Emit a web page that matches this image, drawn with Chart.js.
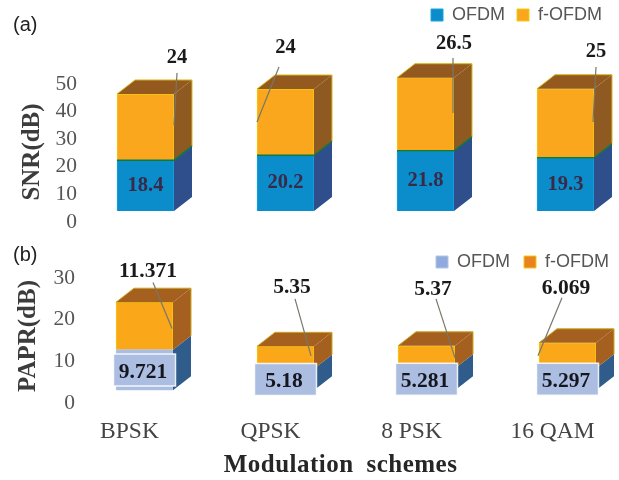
<!DOCTYPE html>
<html>
<head>
<meta charset="utf-8">
<script src="https://cdn.jsdelivr.net/npm/chart.js@4"></script>
<style>
html,body{margin:0;padding:0;background:#fff;overflow:hidden;width:619px;height:480px}
canvas{position:absolute;left:0;filter:blur(0.4px)}
#snr{top:0}
#papr{top:190px}
</style>
</head>
<body>
<canvas id="snr" width="619" height="240"></canvas>
<canvas id="papr" width="619" height="290"></canvas>
<script>
const categories = ["BPSK", "QPSK", "8 PSK", "16 QAM"];
const seriesNames = ["OFDM", "f-OFDM"];
const snrOfdm = [18.4, 20.2, 21.8, 19.3];
const snrFofdm = [24, 24, 26.5, 25];
const paprOfdm = [9.721, 5.18, 5.281, 5.297];
const paprFofdm = [11.371, 5.35, 5.37, 6.069];

const SERIF = '"Liberation Serif", serif';
const SANS = '"Liberation Sans", sans-serif';
const DEPTH = {x: 18, y: 14};

// annotation placement relative to the top-centre of each f-OFDM bar: [label dx, dy, leader x1, y1, x2, y2]
const snrCallouts = [
  [31.5, -36, 31.5, -21, 28.5, 31],
  [0, -41, -6.5, -22, -28.5, 33],
  [28.5, -33.7, 27.5, -19.7, 27.5, 35.3],
  [30.5, -36.7, 30.5, -21.7, 27.5, 33.3]
];
const paprCallouts = [
  [3.5, -30.8, 8.5, -19.8, 27.5, 26.2],
  [6.5, -58.5, 9.5, -47.5, 25.5, 9.5],
  [6.5, -56, 9.5, -47, 28.5, 12],
  [-1.5, -54, -5.5, -45, -29.5, 13]
];

const depthPlugin = {
  id: 'depth',
  afterDatasetsDraw(chart, args, o) {
    const ctx = chart.ctx;
    const lower = chart.getDatasetMeta(0).data;
    const upper = chart.getDatasetMeta(1).data;
    ctx.save();
    lower.forEach((el, i) => {
      const u = upper[i];
      const r = el.x + el.width / 2, l = el.x - el.width / 2;
      const poly = (pts, fill) => {
        ctx.beginPath();
        pts.forEach((p, k) => k ? ctx.lineTo(p[0], p[1]) : ctx.moveTo(p[0], p[1]));
        ctx.closePath();
        ctx.fillStyle = fill;
        ctx.fill();
      };
      poly([[r, el.y], [r + DEPTH.x, el.y - DEPTH.y], [r + DEPTH.x, el.base - DEPTH.y], [r, el.base]], o.sideLow);
      poly([[r, u.y], [r + DEPTH.x, u.y - DEPTH.y], [r + DEPTH.x, el.y - DEPTH.y], [r, el.y]], o.sideHigh);
      poly([[l, u.y], [l + DEPTH.x, u.y - DEPTH.y], [r + DEPTH.x, u.y - DEPTH.y], [r, u.y]], o.topFace);
      ctx.lineWidth = 1;
      ctx.strokeStyle = o.edge;
      ctx.beginPath();
      ctx.moveTo(l, u.y); ctx.lineTo(l + DEPTH.x, u.y - DEPTH.y);
      ctx.lineTo(r + DEPTH.x, u.y - DEPTH.y); ctx.lineTo(r + DEPTH.x, el.y - DEPTH.y);
      ctx.stroke();
      if (o.seam) {
        ctx.strokeStyle = o.seam;
        ctx.lineWidth = 1.5;
        ctx.beginPath();
        ctx.moveTo(l, el.y); ctx.lineTo(r, el.y); ctx.lineTo(r + DEPTH.x, el.y - DEPTH.y);
        ctx.stroke();
      }

      // leader line + upper value
      const c = o.callouts[i];
      ctx.strokeStyle = '#77776a';
      ctx.lineWidth = 1.2;
      ctx.beginPath();
      ctx.moveTo(u.x + c[2], u.y + c[3]);
      ctx.lineTo(u.x + c[4], u.y + c[5]);
      ctx.stroke();
      ctx.textAlign = 'center';
      ctx.textBaseline = 'middle';
      ctx.font = 'bold ' + o.valueSize + 'px ' + SERIF;
      ctx.fillStyle = '#1a1a1a';
      ctx.fillText(String(chart.data.datasets[1].data[i]), u.x + c[0], u.y + c[1]);

      // lower value, optionally in its white-edged box
      const cy = (el.y + el.base) / 2;
      if (o.valueBox) {
        ctx.fillStyle = o.valueBox;
        ctx.fillRect(el.x - 31, cy - 16, 62, 32);
        ctx.strokeStyle = 'rgba(255,255,255,0.85)';
        ctx.lineWidth = 1.5;
        ctx.strokeRect(el.x - 31, cy - 16, 62, 32);
      }
      ctx.fillStyle = o.valueColor;
      ctx.font = 'bold ' + o.valueSize + 'px ' + SERIF;
      ctx.fillText(String(chart.data.datasets[0].data[i]), el.x + o.valueDx, cy + o.valueDy);
    });
    ctx.restore();
  }
};

const textPlugin = {
  id: 'panelText',
  afterDraw(chart, args, o) {
    const ctx = chart.ctx;
    ctx.save();
    ctx.textBaseline = 'middle';
    ctx.textAlign = 'left';
    ctx.font = '20px ' + SANS;
    ctx.fillStyle = '#222';
    ctx.fillText(o.tag, 13, o.tagY);
    ctx.save();
    ctx.translate(o.axisX, o.axisY);
    ctx.rotate(-Math.PI / 2);
    ctx.textAlign = 'center';
    ctx.font = 'bold 25px ' + SERIF;
    ctx.fillStyle = '#3c3c3c';
    ctx.fillText(o.axisTitle, 0, 0);
    ctx.restore();
    if (o.xTitle) {
      ctx.textAlign = 'center';
      ctx.font = 'bold 25px ' + SERIF;
      ctx.letterSpacing = '0.5px';
      ctx.wordSpacing = '6px';
      ctx.fillStyle = '#262626';
      ctx.fillText(o.xTitle, 340.5, o.xTitleY);
    }
    ctx.restore();
  }
};

const legendPlacer = {
  id: 'legendPlacer',
  afterLayout(chart, args, o) {
    const lg = chart.legend;
    lg.left = 300;
    lg.right = o.right;
    lg.top = o.top;
    lg.bottom = o.top + 60;
  }
};

function makePanel(id, p) {
  return new Chart(document.getElementById(id), {
    type: 'bar',
    plugins: [depthPlugin, textPlugin, legendPlacer],
    data: {
      labels: categories,
      datasets: [
        {label: seriesNames[0], data: p.low, backgroundColor: p.lowFill, borderColor: p.lowEdge, borderWidth: 1, barThickness: 57, clip: false},
        {label: seriesNames[1], data: p.high, backgroundColor: p.highFill, borderColor: p.highEdge, borderWidth: 1, barThickness: 57, clip: false}
      ]
    },
    options: {
      responsive: false,
      animation: false,
      events: [],
      layout: {padding: p.padding},
      plugins: {
        tooltip: {enabled: false},
        title: {display: false},
        legend: {
          display: true,
          position: 'top',
          align: 'end',
          labels: {
            boxWidth: 12, boxHeight: 12, padding: p.legendGap,
            color: '#555', font: {family: SANS, size: 18},
            generateLabels(chart) {
              return Chart.defaults.plugins.legend.labels.generateLabels(chart).map((it, i) => {
                it.fillStyle = p.legendFill[i];
                return it;
              });
            }
          }
        },
        legendPlacer: p.legendAt,
        depth: p.depth,
        panelText: p.text
      },
      scales: {
        x: {
          stacked: true,
          offset: false,
          display: p.showX,
          afterFit(scale) { scale.paddingLeft = 0; scale.paddingRight = 0; },
          grid: {display: false, drawTicks: false},
          border: {display: false},
          ticks: {
            padding: 27.5, labelOffset: -15, maxRotation: 0, autoSkip: false,
            color: '#444', font: {family: SERIF, size: 23.5}
          }
        },
        y: {
          stacked: true,
          min: 0,
          max: p.yMax,
          afterFit(scale) { scale.width = p.axisWidth; scale.paddingTop = 0; scale.paddingBottom = 0; },
          grid: {display: false, drawTicks: false},
          border: {display: false},
          ticks: {
            stepSize: 10, padding: p.tickPad, labelOffset: p.tickShift, autoSkip: false,
            color: '#555', font: {family: SERIF, size: 21.5}
          }
        }
      }
    }
  });
}

makePanel('snr', {
  low: snrOfdm, high: snrFofdm,
  lowFill: '#0C8DCB', lowEdge: '#1CA3DE', highFill: '#FBA71E', highEdge: '#F0CC12',
  legendFill: ['#0C8DCB', '#FBA71E'],
  padding: {top: 33, right: 53.5, bottom: 29, left: 0},
  legendGap: 12, legendAt: {right: 614, top: -6},
  showX: false, yMax: 50, axisWidth: 145.5, tickPad: 68.5, tickShift: 11,
  depth: {sideLow: '#2E4F8C', sideHigh: '#8F5A22', topFace: '#93591F', edge: '#D8B81A', seam: '#0F7A3C',
          callouts: snrCallouts, valueColor: '#3A2A48', valueDx: 0, valueDy: 0, valueSize: 20.5},
  text: {tag: '(a)', tagY: 25, axisTitle: 'SNR(dB)', axisX: 33, axisY: 152}
});

makePanel('papr', {
  low: paprOfdm, high: paprFofdm,
  lowFill: '#A9BCE2', lowEdge: '#B4C5E8', highFill: '#FBA71A', highEdge: '#F0CC12',
  legendFill: ['#8FAADC', '#E9821F'],
  padding: {top: 33, right: 51.5, bottom: 6.5, left: 0},
  legendGap: 14, legendAt: {right: 623, top: 49},
  showX: true, yMax: 30, axisWidth: 144.5, tickPad: 69.5, tickShift: 13,
  depth: {sideLow: '#2F5C8A', sideHigh: '#A5601F', topFace: '#A5601F', edge: '#C9A61C',
          callouts: paprCallouts, valueColor: '#16161f', valueDx: -1.5, valueDy: 2, valueBox: '#ACBDE2', valueSize: 21.5},
  text: {tag: '(b)', tagY: 65, axisTitle: 'PAPR(dB)', axisX: 29, axisY: 146,
         xTitle: 'Modulation schemes', xTitleY: 276}
});
</script>
</body>
</html>
